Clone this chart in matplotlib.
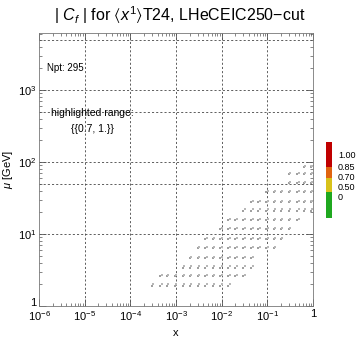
import numpy as np
import matplotlib
matplotlib.use("Agg")
import matplotlib.pyplot as plt
import matplotlib.transforms as mtransforms
from matplotlib.ticker import LogLocator, FixedLocator, FixedFormatter, NullFormatter

plt.rcParams['font.family'] = ['Liberation Sans', 'DejaVu Sans']
plt.rcParams['mathtext.fontset'] = 'custom'
plt.rcParams['mathtext.rm'] = 'Liberation Sans'
plt.rcParams['mathtext.it'] = 'Liberation Sans:italic'
plt.rcParams['mathtext.fallback'] = 'stixsans'

# kinematic x bins seen in the chart
x_bins = [3.0e-4, 4.5e-4, 6.3e-4, 9.3e-4, 1.4e-3, 2.0e-3, 3.0e-3, 4.4e-3,
          6.3e-3, 9.3e-3, 0.014, 0.020, 0.030, 0.045, 0.063, 0.095,
          0.14, 0.20, 0.30, 0.45, 0.63, 0.91]
# mu rows [GeV] and first/last x bin index occupied in each row
mu_rows = [1.9, 2.6, 3.4, 4.6, 6.3, 8.5, 11.7, 15.6, 20.9, 27.8, 38, 51, 68, 85]
row_first = [0, 1, 4, 5, 6, 7, 9, 10, 12, 13, 15, 18, 18, 20]
row_last = [10, 12, 13, 13, 16, 17, 18, 19, 21, 21, 21, 21, 21, 21]

cbar_labels = ['0', '0.50', '0.70', '0.85', '1.00']
cbar_colors = ['#1fa81f', '#d8c21a', '#e0640f', '#c00000']
cbar_sizes = [26, 14, 11, 25]

xs, ys = [], []
for mu, i0, i1 in zip(mu_rows, row_first, row_last):
    for x in x_bins[i0:i1 + 1]:
        xs.append(x)
        ys.append(mu)

fig = plt.figure(figsize=(3.6, 3.41), dpi=100)
ax = fig.add_axes([39 / 360, 1 - 306 / 341, 274 / 360, 273 / 341])

ax.scatter(xs, ys, s=1.4, marker='s', color='#a0a0a0', linewidths=0, zorder=3)
ax.scatter(np.array(xs) * 1.07, np.array(ys) * 1.05, s=1.0, marker='s',
           color='#b8b8b8', linewidths=0, zorder=3)

ax.set_xscale('log')
ax.set_yscale('log')
ax.set_xlim(1e-6, 1)
ax.set_ylim(1, 6200)

ax.xaxis.set_major_locator(FixedLocator([1e-6, 1e-5, 1e-4, 1e-3, 1e-2, 1e-1, 1]))
ax.xaxis.set_major_formatter(FixedFormatter([r'$10^{-6}$', r'$10^{-5}$', r'$10^{-4}$',
                                             r'$10^{-3}$', r'$10^{-2}$', r'$10^{-1}$', '1']))
ax.xaxis.set_minor_locator(LogLocator(base=10, subs=np.arange(2, 10), numticks=20))
ax.xaxis.set_minor_formatter(NullFormatter())
ax.yaxis.set_major_locator(FixedLocator([1, 10, 100, 1000]))
ax.yaxis.set_major_formatter(FixedFormatter(['1', r'$10^{1}$', r'$10^{2}$', r'$10^{3}$']))
ax.yaxis.set_minor_locator(LogLocator(base=10, subs=np.arange(2, 10), numticks=20))
ax.yaxis.set_minor_formatter(NullFormatter())

ax.tick_params(which='both', direction='in', top=True, right=True,
               color='#555555', labelsize=8, pad=2)
ax.tick_params(which='major', length=5, width=0.6)
ax.tick_params(which='minor', length=2.5, width=0.5)
for s in ax.spines.values():
    s.set_color('#777777')
    s.set_linewidth(0.6)

# lift the "1" on the y axis a little, like the original
fig.canvas.draw()
lbl = ax.yaxis.get_majorticklabels()[0]
lbl.set_transform(lbl.get_transform() + mtransforms.ScaledTranslation(0, 3 / 72, fig.dpi_scale_trans))

for xv in [1e-5, 1e-4, 1e-3, 1e-2, 1e-1]:
    ax.axvline(xv, color='#444444', ls=(0, (2.5, 2.5)), lw=0.6, zorder=1)
for yv in [10, 50, 100, 500, 1000, 5000]:
    ax.axhline(yv, color='#444444', ls=(0, (2.5, 2.5)), lw=0.6, zorder=1)

ax.set_xlabel('x', fontsize=8, labelpad=4)
ax.set_ylabel(r'$\mu$ [GeV]', fontsize=8, labelpad=2)

ax.text(0.03, 0.87, 'Npt: 295', transform=ax.transAxes, fontsize=7,
        ha='left', va='center')
ax.text(0.195, 0.708, 'highlighted range:', transform=ax.transAxes, fontsize=7.5,
        ha='center', va='center')
ax.text(0.195, 0.65, '{{0.7, 1.}}', transform=ax.transAxes, fontsize=7.5,
        ha='center', va='center')

fig.text(0.5, 0.955, r'| $C_f$ | for $⟨x^1⟩$T24, LHeCEIC250$-$cut',
         ha='center', va='center', fontsize=11.5)

# colour legend
cax = fig.add_axes([326 / 360, 1 - 218 / 341, 6 / 360, 76 / 341])
bottom = 0
for c, h in zip(cbar_colors, cbar_sizes):
    cax.bar(0, h, bottom=bottom, width=1, color=c, linewidth=0)
    bottom += h
cax.set_xlim(-0.5, 0.5)
cax.set_ylim(0, bottom)
cax.axis('off')
label_y = [198, 188, 178, 168, 156]
for lab, yy in zip(cbar_labels, label_y):
    fig.text(338 / 360, 1 - yy / 341, lab, fontsize=6.5, ha='left', va='center')

fig.savefig('out.png', dpi=100)
